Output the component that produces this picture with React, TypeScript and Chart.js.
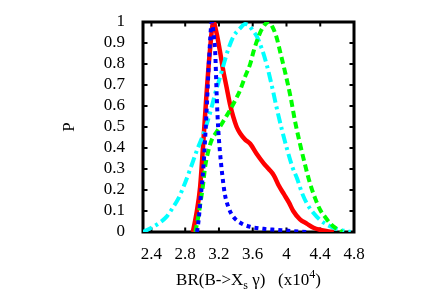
import React, { useEffect, useRef } from "react";
import { Chart, registerables } from "chart.js";

Chart.register(...registerables);

const xTicks = [2.4, 2.8, 3.2, 3.6, 4.0, 4.4, 4.8];
const yTicks = [0, 0.1, 0.2, 0.3, 0.4, 0.5, 0.6, 0.7, 0.8, 0.9, 1.0];

const redX = [2.89, 2.93, 2.977, 3.01, 3.048, 3.09, 3.135, 3.17, 3.21, 3.25, 3.29, 3.33, 3.37, 3.41, 3.45, 3.51, 3.57, 3.65, 3.73, 3.79, 3.85, 3.91, 3.97, 4.03, 4.08, 4.16, 4.24, 4.32, 4.4, 4.5, 4.56];
const redP = [0, 0.08, 0.215, 0.4, 0.63, 0.85, 1.0, 0.95, 0.865, 0.77, 0.69, 0.61, 0.548, 0.5, 0.47, 0.44, 0.42, 0.37, 0.327, 0.3, 0.27, 0.22, 0.18, 0.14, 0.1, 0.06, 0.04, 0.02, 0.01, 0.003, 0];

const blueX = [2.94, 2.96, 2.98, 3.016, 3.05, 3.08, 3.116, 3.14, 3.155, 3.175, 3.19, 3.21, 3.24, 3.27, 3.32, 3.37, 3.47, 3.57, 3.73, 3.89, 4.05, 4.24];
const blueP = [0, 0.06, 0.15, 0.31, 0.55, 0.8, 1.0, 0.93, 0.86, 0.63, 0.5, 0.39, 0.27, 0.18, 0.11, 0.073, 0.04, 0.025, 0.015, 0.01, 0.005, 0];

const greenX = [2.92, 2.95, 2.98, 3.01, 3.036, 3.07, 3.116, 3.16, 3.21, 3.27, 3.33, 3.39, 3.45, 3.51, 3.57, 3.61, 3.65, 3.7, 3.75, 3.79, 3.83, 3.88, 3.93, 3.99, 4.05, 4.1, 4.16, 4.22, 4.28, 4.34, 4.4, 4.46, 4.52, 4.58, 4.66];
const greenP = [0, 0.06, 0.137, 0.22, 0.31, 0.38, 0.44, 0.47, 0.5, 0.54, 0.58, 0.625, 0.675, 0.74, 0.8, 0.86, 0.91, 0.96, 0.99, 1.0, 0.98, 0.93, 0.85, 0.75, 0.64, 0.53, 0.42, 0.32, 0.23, 0.16, 0.105, 0.07, 0.04, 0.02, 0];

const cyanX = [2.3, 2.4, 2.5, 2.58, 2.66, 2.72, 2.78, 2.86, 2.94, 3.0, 3.06, 3.11, 3.155, 3.2, 3.25, 3.31, 3.37, 3.45, 3.51, 3.55, 3.6, 3.65, 3.71, 3.77, 3.83, 3.89, 3.95, 4.01, 4.07, 4.13, 4.18, 4.24, 4.32, 4.4, 4.48, 4.56, 4.66, 4.76];
const cyanP = [0, 0.02, 0.045, 0.073, 0.12, 0.16, 0.215, 0.3, 0.39, 0.45, 0.52, 0.59, 0.66, 0.72, 0.79, 0.87, 0.93, 0.97, 0.99, 0.985, 0.96, 0.93, 0.87, 0.79, 0.69, 0.58, 0.48, 0.39, 0.31, 0.25, 0.19, 0.137, 0.09, 0.057, 0.035, 0.02, 0.008, 0];

const FONT = "'Liberation Serif', 'Times New Roman', serif";

const pts = (xs: number[], ys: number[]) => xs.map((x, i) => ({ x, y: ys[i] }));

const framePlugin = {
  id: "frame",
  beforeDatasetsDraw(chart: any) {
    const { ctx, chartArea } = chart;
    const { left, right, top, bottom } = chartArea;
    const xs = chart.scales.x;
    const ys = chart.scales.y;
    ctx.save();
    ctx.strokeStyle = "#000";
    ctx.lineWidth = 2;
    const tl = 4.5;
    ctx.beginPath();
    xTicks.forEach((v) => {
      const px = xs.getPixelForValue(v);
      ctx.moveTo(px, bottom);
      ctx.lineTo(px, bottom - tl);
      ctx.moveTo(px, top);
      ctx.lineTo(px, top + tl);
    });
    yTicks.forEach((v) => {
      const py = ys.getPixelForValue(v);
      ctx.moveTo(left, py);
      ctx.lineTo(left + tl, py);
      ctx.moveTo(right, py);
      ctx.lineTo(right - tl, py);
    });
    ctx.stroke();
    ctx.lineWidth = 3;
    ctx.strokeRect(left, top, right - left, bottom - top);
    ctx.restore();
  },
  afterDraw(chart: any) {
    const { ctx, chartArea } = chart;
    const { left, right, top, bottom } = chartArea;
    ctx.save();
    ctx.fillStyle = "#000";
    const big = "17px " + FONT;
    const small = "12px " + FONT;
    const parts: [string, string, number][] = [
      ["BR(B->X", big, 0],
      ["s", small, 4],
      [" \u03b3)   (x10", big, 0],
      ["4", small, -7],
      [")", big, 0],
    ];
    let total = 0;
    parts.forEach(([t, f]) => {
      ctx.font = f;
      total += ctx.measureText(t).width;
    });
    let cx = (left + right) / 2 - total / 2;
    const baseY = 285;
    ctx.textBaseline = "alphabetic";
    ctx.textAlign = "left";
    parts.forEach(([t, f, dy]) => {
      ctx.font = f;
      ctx.fillText(t, cx, baseY + dy);
      cx += ctx.measureText(t).width;
    });
    ctx.font = big;
    ctx.translate(70, (top + bottom) / 2);
    ctx.rotate(-Math.PI / 2);
    ctx.textAlign = "center";
    ctx.textBaseline = "middle";
    ctx.fillText("P", 0, 0);
    ctx.restore();
  },
};

export default function App() {
  const ref = useRef<HTMLCanvasElement | null>(null);
  useEffect(() => {
    if (!ref.current) return;
    const chart = new Chart(ref.current, {
      type: "line",
      data: {
        datasets: [
          {
            label: "blue",
            data: pts(blueX, blueP),
            borderColor: "#0000ff",
            borderWidth: 4,
            borderDash: [4, 4],
            borderCapStyle: "butt",
            pointRadius: 0,
            cubicInterpolationMode: "monotone",
          },
          {
            label: "green",
            data: pts(greenX, greenP),
            borderColor: "#00ff00",
            borderWidth: 4,
            borderDash: [7, 4],
            pointRadius: 0,
            cubicInterpolationMode: "monotone",
          },
          {
            label: "cyan",
            data: pts(cyanX, cyanP),
            borderColor: "#00ffff",
            borderWidth: 4,
            borderDash: [10, 4, 3, 4],
            pointRadius: 0,
            cubicInterpolationMode: "monotone",
          },
          {
            label: "red",
            data: pts(redX, redP),
            borderColor: "#ff0000",
            borderWidth: 4.5,
            pointRadius: 0,
            cubicInterpolationMode: "monotone",
          },
        ],
      } as any,
      options: {
        responsive: false,
        animation: false,
        layout: { padding: { left: 0, top: 22, right: 82, bottom: 0 } },
        plugins: { legend: { display: false }, tooltip: { enabled: false } },
        scales: {
          x: {
            type: "linear",
            min: 2.3,
            max: 4.8,
            grid: { display: false },
            border: { display: false },
            afterBuildTicks: (s: any) => {
              s.ticks = xTicks.map((v) => ({ value: v }));
            },
            afterFit: (s: any) => {
              s.height = 73;
            },
            ticks: {
              color: "#000",
              font: { family: FONT, size: 17 },
              padding: 4,
              maxRotation: 0,
              autoSkip: false,
              callback: (v: any) => String(+Number(v).toFixed(1)),
            },
          },
          y: {
            type: "linear",
            min: 0,
            max: 1,
            grid: { display: false },
            border: { display: false },
            afterBuildTicks: (s: any) => {
              s.ticks = yTicks.map((v) => ({ value: v }));
            },
            afterFit: (s: any) => {
              s.width = 143;
            },
            ticks: {
              color: "#000",
              font: { family: FONT, size: 17 },
              padding: 10,
              autoSkip: false,
              callback: (v: any) => String(+Number(v).toFixed(1)),
            },
          },
        },
      } as any,
      plugins: [framePlugin],
    });
    return () => chart.destroy();
  }, []);
  return (
    <div style={{ position: "fixed", left: 0, top: 0, width: 436, height: 305, background: "#fff" }}>
      <canvas ref={ref} width={436} height={305} style={{ display: "block" }} />
    </div>
  );
}
